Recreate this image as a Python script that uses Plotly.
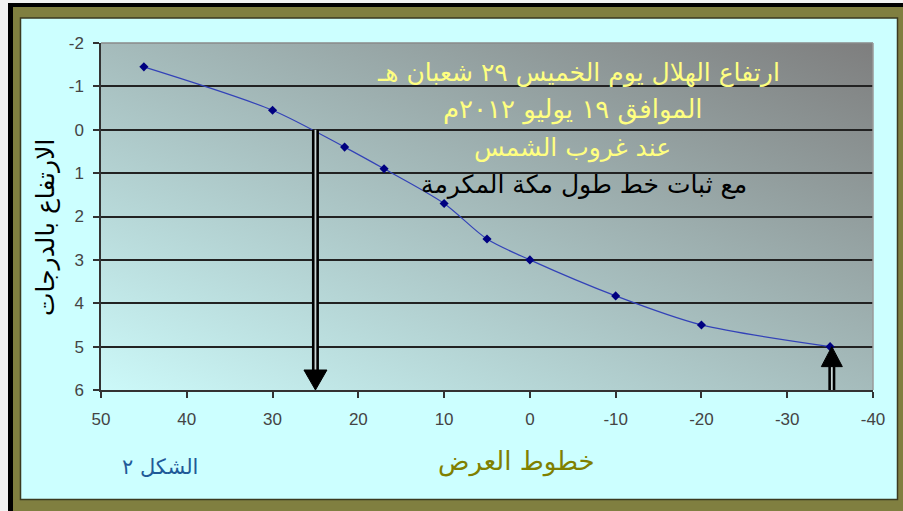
import base64
import plotly.graph_objects as go

# ---------------- data ----------------
latitudes = [45, 30, 21.6, 17, 10, 5, 0, -10, -20, -35]
altitudes = [-1.45, -0.45, 0.4, 0.9, 1.7, 2.52, 3.0, 3.83, 4.5, 5.0]

x_tick_vals = [50, 40, 30, 20, 10, 0, -10, -20, -30, -40]
x_tick_labels = ["50", "40", "30", "20", "10", "0", "-10", "-20", "-30", "-40"]
y_tick_vals = [-2, -1, 0, 1, 2, 3, 4, 5, 6]
y_tick_labels = ["-2", "-1", "0", "1", "2", "3", "4", "5", "6"]

# arrows: (latitude, altitude the arrow points from/to)
down_arrow = (25, 0)      # from the curve at altitude 0 down to the axis
up_arrow = (-35.2, 5)     # from the axis up to the curve at altitude 5

title_lines = ["ارتفاع الهلال يوم الخميس ٢٩ شعبان هـ",
               "الموافق ١٩ يوليو ٢٠١٢م",
               "عند غروب الشمس"]
subtitle = "مع ثبات خط طول مكة المكرمة"
x_title = "خطوط العرض"
y_title = "الارتفاع بالدرجات"
fig_label = "الشكل ٢"

# ---------------- geometry ----------------
FW, FH = 903, 511
ML, MR, MT, MB = 101, 30, 43, 121
PW = FW - ML - MR
PH = FH - MT - MB


def fx(p):
    return (p - ML) / PW


def fy(p):
    return (FH - MB - p) / PH


AR = "DejaVu Sans"

fig = go.Figure()
fig.add_trace(go.Scatter(
    x=latitudes, y=altitudes, mode="lines+markers",
    line=dict(color="#3342B8", width=1.2, shape="spline", smoothing=0.8),
    marker=dict(symbol="diamond", size=7, color="#000080"),
    showlegend=False, hoverinfo="skip"))

shapes = []


def prect(x0, y0, x1, y1, color, layer="below", line=None):
    d = dict(type="rect", xref="paper", yref="paper",
             x0=fx(x0), x1=fx(x1), y0=fy(y0), y1=fy(y1),
             fillcolor=color, layer=layer,
             line=dict(width=0) if line is None else line)
    shapes.append(d)


# outer frame
prect(0, 0, 8, FH, "#f2f2f2")
prect(0, 0, FW, 3, "#f2f2f2")
prect(8, 3, 13, FH, "#000000")
prect(8, 3, FW, 7, "#000000")
OL = "#807F40"
prect(13, 7, 20.5, FH, OL)
prect(13, 7, FW, 18, OL)
prect(897.5, 7, FW, FH, OL)
prect(13, 499.5, FW, FH, OL)
shapes.append(dict(type="rect", xref="paper", yref="paper",
                   x0=fx(20.5), x1=fx(897.5), y0=fy(18), y1=fy(499.5),
                   line=dict(color="#3a3a20", width=1.5), layer="below"))

# plot-area top & right border (gray)
shapes.append(dict(type="line", xref="paper", yref="paper", x0=0, x1=1, y0=1, y1=1,
                   line=dict(color="#8a8a8a", width=1.5), layer="above"))
shapes.append(dict(type="line", xref="paper", yref="paper", x0=1, x1=1, y0=0, y1=1,
                   line=dict(color="#9a9a9a", width=1.5), layer="above"))

# arrows
ymax = y_tick_vals[-1]
head_h_data = 20 / (PH / (y_tick_vals[-1] - y_tick_vals[0]))
for (ax_x, ax_y), up in [(down_arrow, False), (up_arrow, True)]:
    if up:
        s0, s1 = ax_y + head_h_data, ymax
    else:
        s0, s1 = ax_y, ymax - head_h_data
    shapes.append(dict(type="line", xref="x", yref="y", x0=ax_x, x1=ax_x, y0=s0, y1=s1,
                       line=dict(color="black", width=7), layer="above"))
    shapes.append(dict(type="line", xref="x", yref="y", x0=ax_x, x1=ax_x, y0=s0, y1=s1,
                       line=dict(color="#c9d6d6", width=1.8), layer="above"))
    if up:
        path = "M -10.5,-20 L 10.5,-20 L 0,0 Z"
        anchor_y = ax_y
    else:
        path = "M -11.5,20 L 11.5,20 L 0,0 Z"
        anchor_y = ymax
    shapes.append(dict(type="path", xref="x", yref="y",
                       xsizemode="pixel", ysizemode="pixel",
                       xanchor=ax_x, yanchor=anchor_y, path=path,
                       fillcolor="black", line=dict(color="black", width=1),
                       layer="above"))

# gradient background for plot area
svg = ('<svg xmlns="http://www.w3.org/2000/svg" width="772" height="347" '
       'preserveAspectRatio="none"><defs><linearGradient id="g" x1="0" y1="1" x2="1" y2="0">'
       '<stop offset="0" stop-color="#CCF9F9"/><stop offset="1" stop-color="#7E7E7E"/>'
       '</linearGradient></defs><rect width="772" height="347" fill="url(#g)"/></svg>')
img_src = "data:image/svg+xml;base64," + base64.b64encode(svg.encode()).decode()

annotations = []


def ptext(text, x, y, size, color, angle=0, family=AR):
    annotations.append(dict(text=text, xref="paper", yref="paper",
                            x=fx(x), y=fy(y), xanchor="center", yanchor="middle",
                            showarrow=False, textangle=angle,
                            font=dict(family=family, size=size, color=color)))


YEL = "#FFFF80"
ptext(title_lines[0], 578, 73, 25, YEL)
ptext(title_lines[1], 573, 110, 26, YEL)
ptext(title_lines[2], 572, 148, 25, YEL)
ptext(subtitle, 584, 185, 25, "#000000")
ptext(x_title, 516, 461, 26, "#808000")
ptext(fig_label, 160, 467, 21, "#1F5A98")
ptext(y_title, 45, 228, 25, "#000000", angle=-90)

tickfont = dict(family="Liberation Sans, Arial", size=17, color="#444444")

fig.update_layout(
    width=FW, height=FH, autosize=False,
    margin=dict(l=ML, r=MR, t=MT, b=MB, pad=0),
    paper_bgcolor="#CCFFFF", plot_bgcolor="#A6C0C0",
    shapes=shapes, annotations=annotations,
    images=[dict(source=img_src, xref="paper", yref="paper", x=0, y=1,
                 sizex=1, sizey=1, sizing="stretch", layer="below",
                 xanchor="left", yanchor="top")],
    xaxis=dict(range=[x_tick_vals[0], x_tick_vals[-1]], tickmode="array",
               tickvals=x_tick_vals, ticktext=x_tick_labels,
               showgrid=False, zeroline=False, showline=True,
               linecolor="#333333", linewidth=1.5,
               ticks="outside", ticklen=6, tickwidth=1.5, tickcolor="#333333",
               tickfont=tickfont, ticklabelstandoff=7),
    yaxis=dict(range=[y_tick_vals[-1], y_tick_vals[0]], tickmode="array",
               tickvals=y_tick_vals, ticktext=y_tick_labels,
               showgrid=True, gridcolor="#222222", gridwidth=1.5,
               zeroline=False, showline=True,
               linecolor="#333333", linewidth=1.5,
               ticks="outside", ticklen=6, tickwidth=1.5, tickcolor="#333333",
               tickfont=tickfont, ticklabelstandoff=6),
)

fig.write_html("out.html")
